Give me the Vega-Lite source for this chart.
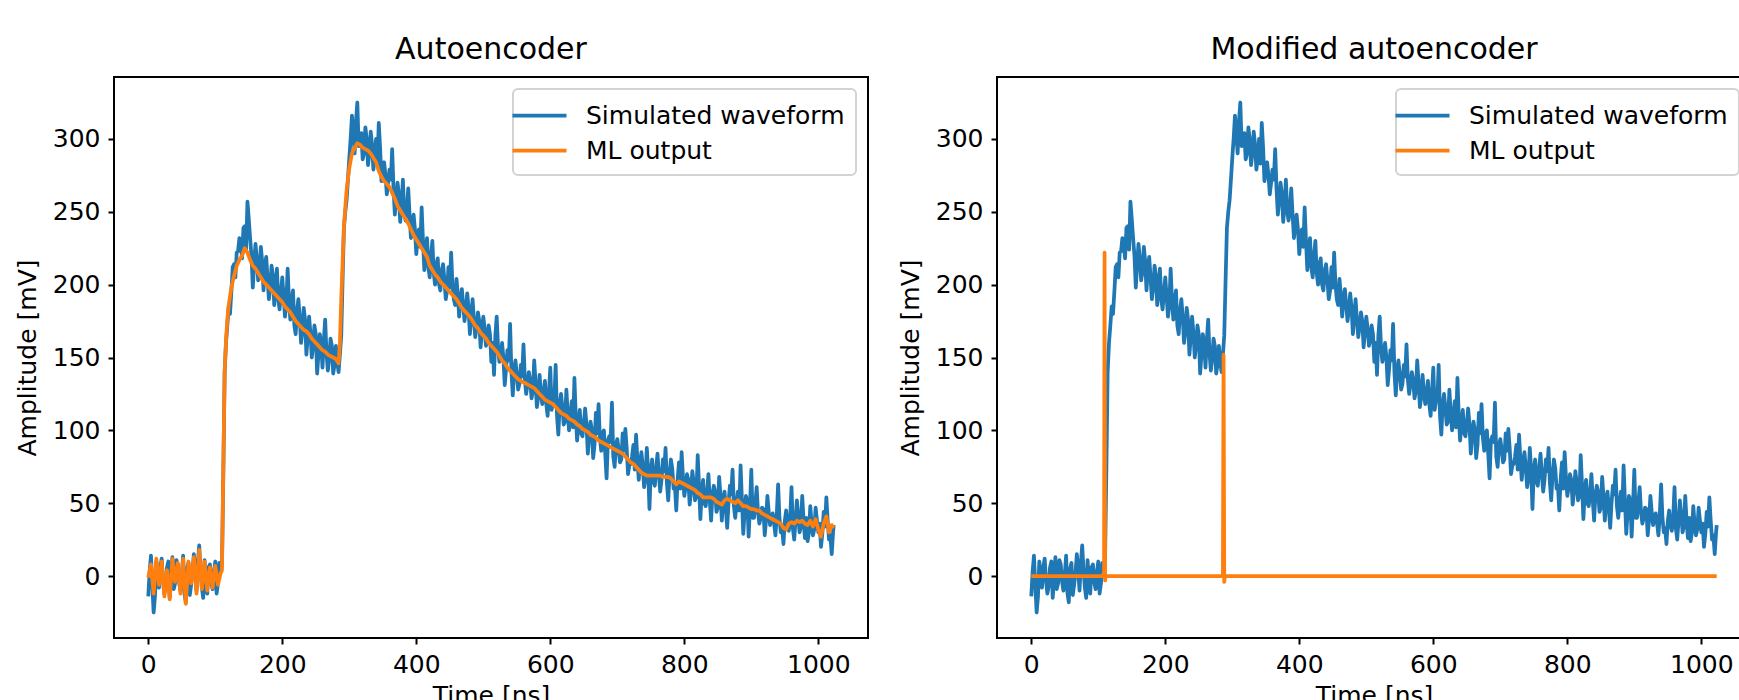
{
"$schema": "https://vega.github.io/schema/vega-lite/v6.json",
"padding": {"left": 14, "top": 34, "right": 0, "bottom": 0},
"background": "white",
"spacing": 129,
"bounds": "flush",
"resolve": {"scale": {"color": "independent"}, "legend": {"color": "independent"}},
"config": {
  "view": {"stroke": "black", "strokeWidth": 2},
  "font": "DejaVu Sans",
  "axis": {"grid": false, "domain": false, "tickColor": "black", "tickWidth": 2, "tickSize": 6, "labelFontSize": 25, "labelColor": "black", "labelFont": "DejaVu Sans", "labelPadding": 8, "titleFontSize": 25, "titleFontWeight": "normal", "titleColor": "black", "titleFont": "DejaVu Sans", "format": "d"},
  "axisY": {"titlePadding": 12},
  "axisX": {"titlePadding": 6},
  "title": {"fontSize": 30, "fontWeight": "normal", "font": "DejaVu Sans", "color": "black", "offset": 12, "anchor": "middle", "baseline": "alphabetic"},
  "legend": {"orient": "top-right", "offset": 12, "strokeColor": "#d3d3d3", "strokeWidth": 2, "cornerRadius": 5, "fillColor": "rgba(255,255,255,0.8)", "padding": 11, "titlePadding": 0, "symbolType": "M-2,0H2", "symbolSize": 729, "symbolStrokeWidth": 3.75, "labelFontSize": 25, "labelFont": "DejaVu Sans", "labelColor": "black", "labelOffset": 31, "labelLimit": 0, "rowPadding": 6, "title": null}
},
"datasets": {
"w": [
{"t":0,"s":-14,"a":-1},{"t":4,"s":14,"a":8},{"t":8,"s":-25,"a":-12},{"t":12,"s":10,"a":12},{"t":16,"s":-8,"a":-6},{"t":20,"s":12,"a":10},{"t":24,"s":-12,"a":-14},{"t":28,"s":6,"a":4},{"t":32,"s":-15,"a":-16},{"t":36,"s":13,"a":12},{"t":40,"s":-5,"a":-4},{"t":44,"s":8,"a":9},{"t":48,"s":-10,"a":-12},{"t":52,"s":14,"a":12},{"t":56,"s":-18,"a":-19},{"t":60,"s":9,"a":10},{"t":64,"s":-6,"a":-5},{"t":68,"s":15,"a":13},{"t":72,"s":-10,"a":-12},{"t":76,"s":21,"a":18},{"t":80,"s":-8,"a":-9},{"t":84,"s":11,"a":10},{"t":88,"s":-12,"a":-10},{"t":92,"s":8,"a":6},{"t":96,"s":-9,"a":-8},{"t":100,"s":10,"a":7},{"t":104,"s":-5,"a":-6},{"t":108,"s":4,"a":2},
{"t":110,"s":8,"a":4},{"t":112,"s":70,"a":75},{"t":114,"s":140,"a":140},{"t":116,"s":160,"a":162},{"t":118,"s":172,"a":176},{"t":120,"s":185,"a":186},
{"t":124,"s":195,"a":198},{"t":128,"s":214,"a":206},{"t":132,"s":222,"a":213},{"t":136,"s":232,"a":217},{"t":140,"s":218,"a":220},{"t":144,"s":240,"a":225},{"t":148,"s":257,"a":222},{"t":152,"s":232,"a":217},{"t":156,"s":198,"a":213},{"t":160,"s":228,"a":211},{"t":164,"s":203,"a":208},{"t":168,"s":226,"a":205},{"t":172,"s":196,"a":202},{"t":176,"s":219,"a":200},{"t":180,"s":190,"a":198},{"t":184,"s":213,"a":196},{"t":188,"s":186,"a":194},{"t":192,"s":211,"a":192},{"t":196,"s":183,"a":190},{"t":200,"s":205,"a":188},{"t":204,"s":178,"a":185},{"t":208,"s":211,"a":183},{"t":212,"s":176,"a":181},{"t":216,"s":196,"a":178},{"t":220,"s":166,"a":175},{"t":224,"s":190,"a":173},{"t":228,"s":160,"a":171},{"t":232,"s":184,"a":169},{"t":236,"s":152,"a":168},{"t":240,"s":178,"a":166},{"t":244,"s":150,"a":163},{"t":248,"s":172,"a":161},{"t":252,"s":139,"a":159},{"t":256,"s":166,"a":157},{"t":260,"s":143,"a":155},{"t":264,"s":176,"a":154},{"t":268,"s":141,"a":152},{"t":272,"s":163,"a":151},{"t":276,"s":139,"a":150},{"t":280,"s":158,"a":149},{"t":284,"s":140,"a":146},{"t":286,"s":152,"a":160},{"t":288,"s":165,"a":190},{"t":290,"s":203,"a":215},{"t":292,"s":239,"a":240},{"t":296,"s":258,"a":265},{"t":300,"s":287,"a":280},{"t":304,"s":316,"a":290},{"t":308,"s":290,"a":294},{"t":312,"s":325,"a":297},{"t":316,"s":299,"a":296},{"t":320,"s":286,"a":294},{"t":324,"s":308,"a":293},{"t":328,"s":282,"a":292},{"t":332,"s":305,"a":290},{"t":336,"s":279,"a":287},{"t":340,"s":300,"a":284},{"t":344,"s":311,"a":278},{"t":348,"s":271,"a":274},{"t":352,"s":284,"a":271},{"t":356,"s":262,"a":269},{"t":360,"s":279,"a":267},{"t":364,"s":293,"a":263},{"t":368,"s":248,"a":259},{"t":372,"s":270,"a":254},{"t":376,"s":243,"a":251},{"t":380,"s":272,"a":248},{"t":384,"s":244,"a":245},{"t":388,"s":266,"a":242},{"t":392,"s":232,"a":238},{"t":396,"s":248,"a":234},{"t":400,"s":221,"a":231},{"t":404,"s":238,"a":228},{"t":408,"s":253,"a":225},{"t":412,"s":210,"a":222},{"t":416,"s":232,"a":219},{"t":420,"s":205,"a":213},{"t":424,"s":230,"a":210},{"t":428,"s":200,"a":207},{"t":432,"s":218,"a":205},{"t":436,"s":196,"a":202},{"t":440,"s":214,"a":200},{"t":444,"s":190,"a":198},{"t":448,"s":212,"a":196},{"t":452,"s":222,"a":194},{"t":456,"s":190,"a":192},{"t":460,"s":204,"a":190},{"t":464,"s":178,"a":187},{"t":468,"s":197,"a":184},{"t":472,"s":175,"a":182},{"t":476,"s":194,"a":180},{"t":480,"s":166,"a":178},{"t":484,"s":190,"a":175},{"t":488,"s":164,"a":172},{"t":492,"s":181,"a":170},{"t":496,"s":157,"a":167},{"t":500,"s":178,"a":165},{"t":504,"s":158,"a":163},{"t":508,"s":172,"a":160},{"t":512,"s":147,"a":158},{"t":516,"s":138,"a":156},{"t":520,"s":178,"a":154},{"t":524,"s":147,"a":151},{"t":528,"s":160,"a":148},{"t":532,"s":131,"a":146},{"t":536,"s":155,"a":143},{"t":540,"s":173,"a":141},{"t":544,"s":124,"a":139},{"t":548,"s":148,"a":137},{"t":552,"s":128,"a":135},{"t":556,"s":145,"a":134},{"t":560,"s":159,"a":133},{"t":564,"s":125,"a":132},{"t":568,"s":140,"a":131},{"t":572,"s":122,"a":130},{"t":576,"s":148,"a":129},{"t":580,"s":116,"a":127},{"t":584,"s":138,"a":125},{"t":588,"s":118,"a":123},{"t":592,"s":134,"a":121},{"t":596,"s":110,"a":120},{"t":600,"s":143,"a":119},{"t":604,"s":120,"a":118},{"t":608,"s":145,"a":116},{"t":612,"s":97,"a":114},{"t":616,"s":125,"a":112},{"t":620,"s":104,"a":111},{"t":624,"s":128,"a":110},{"t":628,"s":100,"a":108},{"t":632,"s":120,"a":107},{"t":636,"s":136,"a":106},{"t":640,"s":93,"a":104},{"t":644,"s":114,"a":103},{"t":648,"s":96,"a":101},{"t":652,"s":115,"a":100},{"t":656,"s":84,"a":99},{"t":660,"s":106,"a":97},{"t":664,"s":81,"a":96},{"t":668,"s":112,"a":95},{"t":672,"s":118,"a":93},{"t":676,"s":86,"a":92},{"t":680,"s":100,"a":91},{"t":684,"s":67,"a":90},{"t":688,"s":96,"a":89},{"t":692,"s":119,"a":88},{"t":696,"s":75,"a":87},{"t":700,"s":94,"a":86},{"t":704,"s":78,"a":85},{"t":708,"s":98,"a":84},{"t":712,"s":101,"a":82},{"t":716,"s":70,"a":80},{"t":720,"s":77,"a":78},{"t":724,"s":90,"a":77},{"t":728,"s":97,"a":75},{"t":732,"s":66,"a":73},{"t":736,"s":85,"a":71},{"t":740,"s":61,"a":70},{"t":744,"s":88,"a":69},{"t":748,"s":46,"a":69},{"t":752,"s":80,"a":69},{"t":756,"s":62,"a":69},{"t":760,"s":84,"a":69},{"t":764,"s":58,"a":69},{"t":768,"s":80,"a":68},{"t":772,"s":88,"a":68},{"t":776,"s":52,"a":68},{"t":780,"s":80,"a":67},{"t":784,"s":60,"a":65},{"t":788,"s":45,"a":63},{"t":792,"s":78,"a":65},{"t":796,"s":85,"a":64},{"t":800,"s":55,"a":63},{"t":804,"s":70,"a":62},{"t":808,"s":49,"a":61},{"t":812,"s":72,"a":60},{"t":816,"s":52,"a":59},{"t":820,"s":83,"a":57},{"t":824,"s":39,"a":56},{"t":828,"s":66,"a":54},{"t":832,"s":48,"a":54},{"t":836,"s":70,"a":54},{"t":840,"s":38,"a":54},{"t":844,"s":62,"a":53},{"t":848,"s":44,"a":51},{"t":852,"s":68,"a":50},{"t":856,"s":38,"a":49},{"t":860,"s":58,"a":52},{"t":864,"s":33,"a":53},{"t":868,"s":62,"a":52},{"t":872,"s":73,"a":51},{"t":876,"s":40,"a":50},{"t":880,"s":58,"a":52},{"t":884,"s":76,"a":50},{"t":888,"s":29,"a":48},{"t":892,"s":55,"a":48},{"t":896,"s":27,"a":47},{"t":900,"s":73,"a":46},{"t":904,"s":40,"a":46},{"t":908,"s":61,"a":45},{"t":912,"s":36,"a":45},{"t":916,"s":47,"a":43},{"t":920,"s":28,"a":42},{"t":924,"s":55,"a":41},{"t":928,"s":35,"a":40},{"t":932,"s":43,"a":39},{"t":936,"s":28,"a":38},{"t":940,"s":63,"a":37},{"t":944,"s":30,"a":36},{"t":948,"s":22,"a":33},{"t":952,"s":45,"a":32},{"t":956,"s":31,"a":36},{"t":960,"s":61,"a":37},{"t":964,"s":25,"a":36},{"t":968,"s":52,"a":38},{"t":972,"s":30,"a":37},{"t":976,"s":55,"a":38},{"t":980,"s":26,"a":36},{"t":984,"s":24,"a":35},{"t":988,"s":48,"a":38},{"t":992,"s":28,"a":34},{"t":996,"s":47,"a":39},{"t":1000,"s":30,"a":32},{"t":1004,"s":20,"a":27},{"t":1008,"s":44,"a":36},{"t":1012,"s":54,"a":41},{"t":1016,"s":25,"a":30},{"t":1020,"s":15,"a":35},{"t":1023,"s":35,"a":33},
{"t":2,"s":3},{"t":6,"s":-6},{"t":10,"s":-14},{"t":14,"s":2},{"t":18,"s":6},{"t":22,"s":-3},{"t":26,"s":-7},{"t":30,"s":10},{"t":34,"s":-2},{"t":38,"s":-9},{"t":42,"s":11},{"t":46,"s":-4},{"t":50,"s":1},{"t":54,"s":-12},{"t":58,"s":5},{"t":62,"s":-13},{"t":66,"s":2},{"t":70,"s":5},{"t":74,"s":9},{"t":78,"s":4},{"t":82,"s":-15},{"t":86,"s":-2},{"t":90,"s":6},{"t":94,"s":-4},{"t":98,"s":3},{"t":102,"s":-12},{"t":106,"s":9},
{"t":122,"s":180},{"t":126,"s":212},{"t":130,"s":205},{"t":134,"s":223},{"t":138,"s":228},{"t":142,"s":239},{"t":146,"s":224},{"t":150,"s":245},{"t":154,"s":220},{"t":158,"s":214},{"t":162,"s":218},{"t":166,"s":209},{"t":170,"s":216},{"t":174,"s":212},{"t":178,"s":205},{"t":182,"s":198},{"t":186,"s":206},{"t":190,"s":199},{"t":194,"s":190},{"t":198,"s":195},{"t":202,"s":192},{"t":206,"s":186},{"t":210,"s":189},{"t":214,"s":190},{"t":218,"s":172},{"t":222,"s":182},{"t":226,"s":178},{"t":230,"s":168},{"t":234,"s":176},{"t":238,"s":164},{"t":242,"s":167},{"t":246,"s":158},{"t":250,"s":166},{"t":254,"s":152},{"t":258,"s":160},{"t":262,"s":162},{"t":266,"s":153},{"t":270,"s":149},{"t":274,"s":158},{"t":278,"s":145},{"t":282,"s":147},
{"t":294,"s":250},{"t":298,"s":272},{"t":302,"s":300},{"t":306,"s":304},{"t":310,"s":312},{"t":314,"s":295},{"t":318,"s":304},{"t":322,"s":290},{"t":326,"s":300},{"t":330,"s":290},{"t":334,"s":296},{"t":338,"s":288},{"t":342,"s":283},{"t":346,"s":294},{"t":350,"s":278},{"t":354,"s":275},{"t":358,"s":270},{"t":362,"s":272},{"t":366,"s":266},{"t":370,"s":258},{"t":374,"s":262},{"t":378,"s":255},{"t":382,"s":250},{"t":386,"s":252},{"t":390,"s":248},{"t":394,"s":240},{"t":398,"s":238},{"t":402,"s":232},{"t":406,"s":226},{"t":410,"s":230},{"t":414,"s":224},{"t":418,"s":212},{"t":422,"s":220},{"t":426,"s":208},{"t":430,"s":214},{"t":434,"s":200},{"t":438,"s":210},{"t":442,"s":203},{"t":446,"s":196},{"t":450,"s":198},{"t":454,"s":200},{"t":458,"s":186},{"t":462,"s":193},{"t":466,"s":190},{"t":470,"s":186},{"t":474,"s":183},{"t":478,"s":184},{"t":482,"s":178},{"t":486,"s":176},{"t":490,"s":171},{"t":494,"s":175},{"t":498,"s":168},{"t":502,"s":170},{"t":506,"s":162},{"t":510,"s":166},{"t":514,"s":160},{"t":518,"s":165},{"t":522,"s":157},{"t":526,"s":152},{"t":530,"s":150},{"t":534,"s":142},{"t":538,"s":148},{"t":542,"s":140},{"t":546,"s":142},{"t":550,"s":138},{"t":554,"s":132},{"t":558,"s":137},{"t":562,"s":135},{"t":566,"s":132},{"t":570,"s":134},{"t":574,"s":127},{"t":578,"s":133},{"t":582,"s":123},{"t":586,"s":126},{"t":590,"s":125},{"t":594,"s":118},{"t":598,"s":126},{"t":602,"s":114},{"t":606,"s":121},{"t":610,"s":110},{"t":614,"s":118},{"t":618,"s":116},{"t":622,"s":106},{"t":626,"s":112},{"t":630,"s":110},{"t":634,"s":102},{"t":638,"s":110},{"t":642,"s":104},{"t":646,"s":98},{"t":650,"s":105},{"t":654,"s":104},{"t":658,"s":96},{"t":662,"s":100},{"t":666,"s":90},{"t":670,"s":98},{"t":674,"s":95},{"t":678,"s":98},{"t":682,"s":84},{"t":686,"s":93},{"t":690,"s":92},{"t":694,"s":82},{"t":698,"s":90},{"t":702,"s":87},{"t":706,"s":80},{"t":710,"s":86},{"t":714,"s":88},{"t":718,"s":76},{"t":722,"s":82},{"t":726,"s":73},{"t":730,"s":80},{"t":734,"s":78},{"t":738,"s":75},{"t":742,"s":67},{"t":746,"s":73},{"t":750,"s":72},{"t":754,"s":65},{"t":758,"s":74},{"t":762,"s":70},{"t":766,"s":66},{"t":770,"s":72},{"t":774,"s":64},{"t":778,"s":70},{"t":782,"s":74},{"t":786,"s":62},{"t":790,"s":66},{"t":794,"s":60},{"t":798,"s":68},{"t":802,"s":61},{"t":806,"s":66},{"t":810,"s":58},{"t":814,"s":64},{"t":818,"s":55},{"t":822,"s":62},{"t":826,"s":58},{"t":830,"s":50},{"t":834,"s":58},{"t":838,"s":52},{"t":842,"s":56},{"t":846,"s":58},{"t":850,"s":47},{"t":854,"s":55},{"t":858,"s":52},{"t":862,"s":46},{"t":866,"s":50},{"t":870,"s":56},{"t":874,"s":48},{"t":878,"s":50},{"t":882,"s":45},{"t":886,"s":52},{"t":890,"s":44},{"t":894,"s":52},{"t":898,"s":48},{"t":902,"s":40},{"t":906,"s":50},{"t":910,"s":44},{"t":914,"s":40},{"t":918,"s":46},{"t":922,"s":38},{"t":926,"s":44},{"t":930,"s":40},{"t":934,"s":36},{"t":938,"s":42},{"t":942,"s":40},{"t":946,"s":33},{"t":950,"s":38},{"t":954,"s":35},{"t":958,"s":40},{"t":962,"s":33},{"t":966,"s":38},{"t":970,"s":42},{"t":974,"s":34},{"t":978,"s":38},{"t":982,"s":40},{"t":986,"s":30},{"t":990,"s":36},{"t":994,"s":32},{"t":998,"s":38},{"t":1002,"s":36},{"t":1006,"s":29},{"t":1010,"s":34},{"t":1014,"s":38},{"t":1018,"s":28},{"t":1022,"s":30}
],
"mod": [
{"t":0,"m":0},{"t":107,"m":0},{"t":108.6,"m":3},{"t":109.4,"m":222},{"t":110.2,"m":-3},{"t":111,"m":0},{"t":286,"m":0},{"t":287,"m":152},{"t":288,"m":-4},{"t":289,"m":0},{"t":1023,"m":0}
]
},
"hconcat": [
{
  "title": "Autoencoder",
  "width": 754, "height": 561,
  "layer": [
    {"data": {"name": "w"}, "mark": {"type": "line", "strokeWidth": 3.75, "strokeJoin": "round", "invalid": "filter"},
     "encoding": {
       "x": {"field": "t", "type": "quantitative", "scale": {"domain": [-51.15, 1074.15], "nice": false, "zero": false}, "axis": {"values": [0,200,400,600,800,1000], "title": "Time [ns]"}},
       "y": {"field": "s", "type": "quantitative", "scale": {"domain": [-42.5, 342.5], "nice": false, "zero": false}, "axis": {"values": [0,50,100,150,200,250,300], "title": "Amplitude [mV]"}},
       "color": {"datum": "Simulated waveform", "type": "nominal", "scale": {"domain": ["Simulated waveform", "ML output"], "range": ["#1f77b4", "#ff7f0e"]}}
     }},
    {"data": {"name": "w"}, "mark": {"type": "line", "strokeWidth": 3.75, "strokeJoin": "round", "invalid": "filter"},
     "encoding": {
       "x": {"field": "t", "type": "quantitative"},
       "y": {"field": "a", "type": "quantitative", "axis": {"title": "Amplitude [mV]"}},
       "color": {"datum": "ML output", "type": "nominal"}
     }}
  ]
},
{
  "title": "Modified autoencoder",
  "width": 754, "height": 561,
  "layer": [
    {"data": {"name": "w"}, "mark": {"type": "line", "strokeWidth": 3.75, "strokeJoin": "round", "invalid": "filter"},
     "encoding": {
       "x": {"field": "t", "type": "quantitative", "scale": {"domain": [-51.15, 1074.15], "nice": false, "zero": false}, "axis": {"values": [0,200,400,600,800,1000], "title": "Time [ns]"}},
       "y": {"field": "s", "type": "quantitative", "scale": {"domain": [-42.5, 342.5], "nice": false, "zero": false}, "axis": {"values": [0,50,100,150,200,250,300], "title": "Amplitude [mV]"}},
       "color": {"datum": "Simulated waveform", "type": "nominal", "scale": {"domain": ["Simulated waveform", "ML output"], "range": ["#1f77b4", "#ff7f0e"]}}
     }},
    {"data": {"name": "mod"}, "mark": {"type": "line", "strokeWidth": 3.75, "strokeJoin": "round", "invalid": "filter"},
     "encoding": {
       "x": {"field": "t", "type": "quantitative"},
       "y": {"field": "m", "type": "quantitative", "axis": {"title": "Amplitude [mV]"}},
       "color": {"datum": "ML output", "type": "nominal"}
     }}
  ]
}
]
}
